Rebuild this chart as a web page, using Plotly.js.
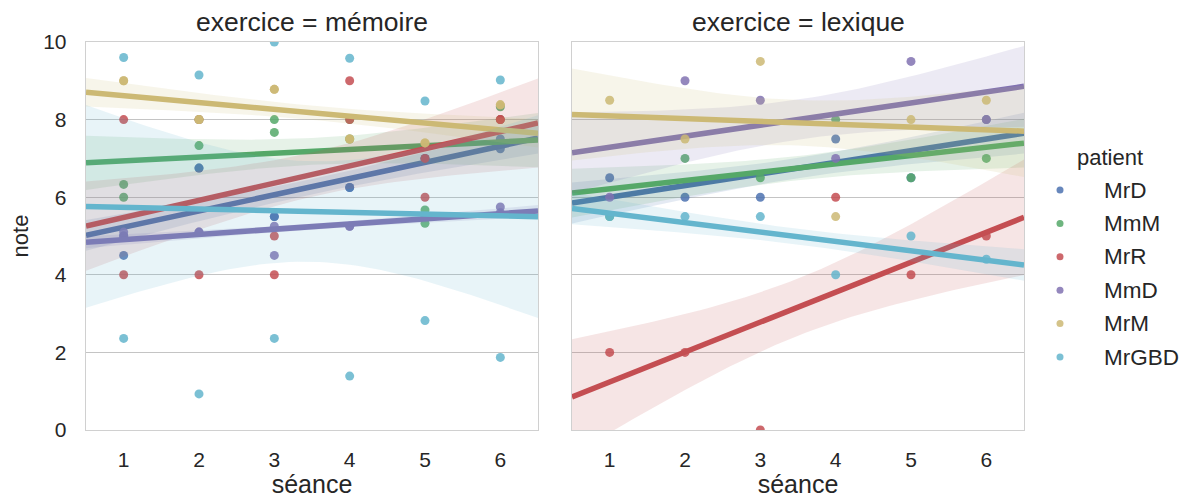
<!DOCTYPE html>
<html><head><meta charset="utf-8">
<script src="https://cdn.plot.ly/plotly-3.0.1.min.js"></script>
<style>html,body{margin:0;padding:0;background:#fff}#chart{width:1183px;height:501px}</style>
</head><body><div id="chart"></div>
<script>
// ---------- data ----------
const seances = [1, 2, 3, 4, 5, 6];
const yTicks = [0, 2, 4, 6, 8, 10];
const patients = ['MrD', 'MmM', 'MrR', 'MmD', 'MrM', 'MrGBD'];
const palette = ['#4C72B0', '#55A868', '#C44E52', '#8172B2', '#CCB974', '#64B5CD'];
const panelTitles = ['exercice = mémoire', 'exercice = lexique'];

// exercice = mémoire : two notes per séance (first and second)
const memoireMrD_1   = [4.5, 6.75, 5.5, 6.25, 7.0, 7.5];
const memoireMrD_2   = [5.0, 6.75, 5.5, 6.25, 7.0, 7.25];
const memoireMmM_1   = [6.33, 7.33, 8.0, 8.0, 5.67, 8.0];
const memoireMmM_2   = [6.0, 8.0, 7.67, 7.5, 5.33, 8.33];
const memoireMrR_1   = [8, 8, 5, 9, 7, 8];
const memoireMrR_2   = [4, 4, 4, 8, 6, 8];
const memoireMmD_1   = [5.0, 5.1, 4.5, 5.25, 5.5, 5.75];
const memoireMmD_2   = [5.1, 5.1, 5.25, 5.25, 5.5, 5.6];
const memoireMrM_1   = [9.0, 8.0, 8.78, 7.5, 7.4, 8.38];
const memoireMrM_2   = [9.0, 8.0, 8.78, 7.5, 7.4, 8.38];
const memoireMrGBD_1 = [9.6, 9.15, 10.0, 9.58, 8.48, 9.02];
const memoireMrGBD_2 = [2.36, 0.93, 2.36, 1.39, 2.82, 1.87];

// exercice = lexique : one note per séance
const lexiqueMrD   = [6.5, 6.0, 6.0, 7.5, 6.5, 8.0];
const lexiqueMmM   = [5.5, 7.0, 6.5, 8.0, 6.5, 7.0];
const lexiqueMrR   = [2.0, 2.0, 0.0, 6.0, 4.0, 5.0];
const lexiqueMmD   = [6.0, 9.0, 8.5, 7.0, 9.5, 8.0];
const lexiqueMrM   = [8.5, 7.5, 9.5, 5.5, 8.0, 8.5];
const lexiqueMrGBD = [5.5, 5.5, 5.5, 4.0, 5.0, 4.4];

const memoireSets = [
  [memoireMrD_1, memoireMrD_2], [memoireMmM_1, memoireMmM_2], [memoireMrR_1, memoireMrR_2],
  [memoireMmD_1, memoireMmD_2], [memoireMrM_1, memoireMrM_2], [memoireMrGBD_1, memoireMrGBD_2]
];
const lexiqueSets = [[lexiqueMrD], [lexiqueMmM], [lexiqueMrR], [lexiqueMmD], [lexiqueMrM], [lexiqueMrGBD]];

// ---------- styling ----------
const FONT = 'Liberation Sans, Arial, sans-serif';
const TXT = '#262626';
const X_MIN = 0.5, X_MAX = 6.5;
const W = 1183, PLOT_TOP = 42, PLOT_BOTTOM = 430;

function rgba(hex, a) {
  const n = parseInt(hex.slice(1), 16);
  return `rgba(${(n >> 16) & 255},${(n >> 8) & 255},${n & 255},${a})`;
}

function fit(xs, ys) {
  const n = xs.length;
  const mx = xs.reduce((a, b) => a + b, 0) / n;
  const my = ys.reduce((a, b) => a + b, 0) / n;
  let sxx = 0, sxy = 0;
  for (let i = 0; i < n; i++) { sxx += (xs[i] - mx) ** 2; sxy += (xs[i] - mx) * (ys[i] - my); }
  const b = sxy / sxx, a = my - b * mx;
  let ssr = 0;
  for (let i = 0; i < n; i++) ssr += (ys[i] - a - b * xs[i]) ** 2;
  const s = Math.sqrt(ssr / (n - 2));
  return { a, b, s, n, mx, sxx };
}

const traces = [];
function addPanel(sets, xa, ya, bandK) {
  sets.forEach((series, p) => {
    const xs = [], ys = [];
    series.forEach(arr => arr.forEach((v, i) => { xs.push(seances[i]); ys.push(v); }));
    const col = palette[p];
    const f = fit(xs, ys);
    const gx = [];
    for (let i = 0; i <= 60; i++) gx.push(X_MIN + (X_MAX - X_MIN) * i / 60);
    const gy = gx.map(x => f.a + f.b * x);
    const hw = gx.map(x => bandK * f.s * Math.sqrt(1 / f.n + (x - f.mx) ** 2 / f.sxx));
    const up = gy.map((y, i) => y + hw[i]);
    const lo = gy.map((y, i) => y - hw[i]);
    traces.push({
      type: 'scatter', mode: 'markers', x: xs, y: ys, xaxis: xa, yaxis: ya,
      name: patients[p], showlegend: false,
      marker: { color: col, size: 9, opacity: 0.85, line: { width: 0 } }
    });
    traces.push({
      type: 'scatter', mode: 'lines', x: gx.concat(gx.slice().reverse()), y: up.concat(lo.slice().reverse()),
      xaxis: xa, yaxis: ya, fill: 'toself', fillcolor: rgba(col, 0.15), line: { width: 0, color: rgba(col, 0) },
      showlegend: false, hoverinfo: 'skip'
    });
    traces.push({
      type: 'scatter', mode: 'lines', x: [gx[0], gx[gx.length - 1]], y: [gy[0], gy[gy.length - 1]],
      xaxis: xa, yaxis: ya, line: { color: col, width: 5.5 },
      showlegend: false, hoverinfo: 'skip'
    });
  });
}
addPanel(memoireSets, 'x', 'y', 1.1);
addPanel(lexiqueSets, 'x2', 'y2', 0.95);

const axisCommon = {
  showline: true, mirror: true, linecolor: '#d0d0d0', linewidth: 1.3,
  zeroline: false, ticks: '', tickfont: { family: FONT, size: 21, color: TXT }
};
const xCommon = Object.assign({}, axisCommon, {
  range: [X_MIN, X_MAX], tickvals: seances, ticktext: seances.map(String), showgrid: false,
  ticklabelstandoff: 10,
  title: { text: 'séance', font: { family: FONT, size: 25, color: TXT }, standoff: 6 }
});
const yCommon = Object.assign({}, axisCommon, {
  range: [0, 10], tickvals: yTicks, ticktext: yTicks.map(String), showgrid: true,
  gridcolor: '#c4c4c4', gridwidth: 1.4
});

// manual legend (seaborn style: title, small dots, labels)
const py = v => (PLOT_BOTTOM - v) / (PLOT_BOTTOM - PLOT_TOP);
const legendTop = 190, legendStep = 33.4;
const legendShapes = patients.map((name, i) => ({
  type: 'circle', xref: 'paper', yref: 'paper', xsizemode: 'pixel', ysizemode: 'pixel',
  xanchor: 1060 / W, yanchor: py(legendTop + i * legendStep),
  x0: -3.5, x1: 3.5, y0: -3.5, y1: 3.5,
  fillcolor: rgba(palette[i], 0.85), line: { width: 0 }
}));
const legendLabels = patients.map((name, i) => ({
  text: name, xref: 'paper', yref: 'paper', x: 1102 / W, y: py(legendTop + i * legendStep),
  xanchor: 'left', yanchor: 'middle', showarrow: false,
  font: { family: FONT, size: 22.5, color: TXT }
}));
const legendTitle = {
  text: 'patient', xref: 'paper', yref: 'paper', x: 1110 / W, y: py(157),
  xanchor: 'center', yanchor: 'middle', showarrow: false,
  font: { family: FONT, size: 22, color: TXT }
};

const layout = {
  width: 1183, height: 501,
  paper_bgcolor: '#fff', plot_bgcolor: '#fff',
  margin: { l: 0, r: 0, t: PLOT_TOP, b: 501 - PLOT_BOTTOM },
  font: { family: FONT, color: TXT },
  xaxis: Object.assign({}, xCommon, { domain: [86 / W, 538 / W], anchor: 'y' }),
  xaxis2: Object.assign({}, xCommon, { domain: [572 / W, 1024 / W], anchor: 'y2' }),
  yaxis: Object.assign({}, yCommon, {
    domain: [0, 1], anchor: 'x', ticklabelstandoff: 14,
    title: { text: 'note', font: { family: FONT, size: 22, color: TXT }, standoff: 8 }
  }),
  yaxis2: Object.assign({}, yCommon, { domain: [0, 1], anchor: 'x2', matches: 'y', showticklabels: false }),
  annotations: panelTitles.map((t, i) => ({
    text: t, xref: 'paper', yref: 'paper', x: i === 0 ? (86 + 538) / 2 / W : (572 + 1024) / 2 / W,
    y: 1, xanchor: 'center', yanchor: 'bottom', yshift: 3, showarrow: false,
    font: { family: FONT, size: 26.5, color: TXT }
  })).concat(legendLabels, [legendTitle]),
  shapes: legendShapes,
  showlegend: false,
  hovermode: 'closest'
};

Plotly.newPlot('chart', traces, layout, { displayModeBar: false, staticPlot: true });
</script>
</body></html>
